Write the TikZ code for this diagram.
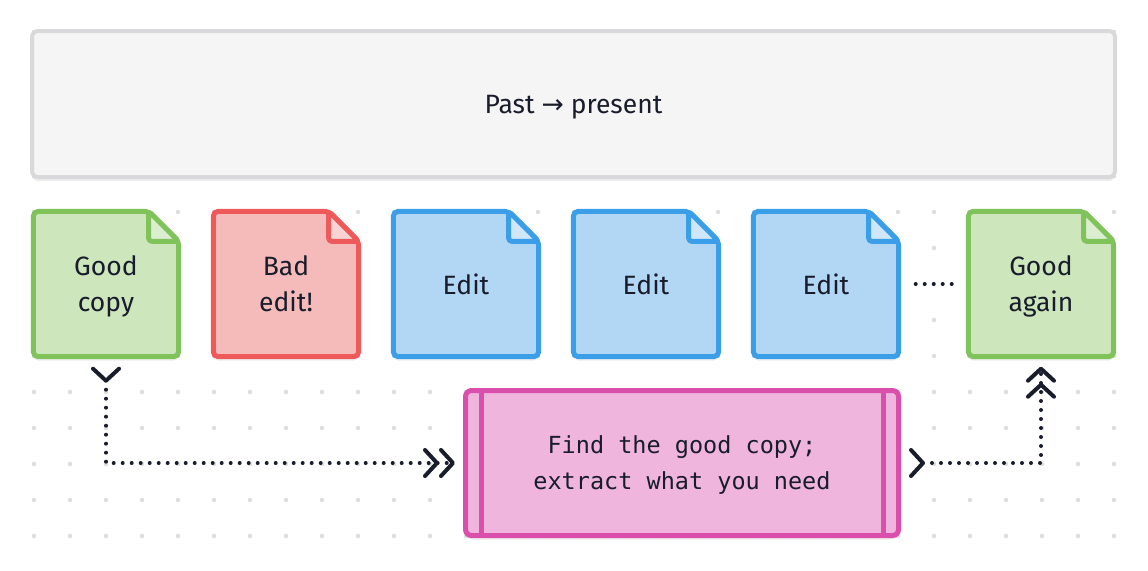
\documentclass[tikz,border=0pt]{standalone}
\usepackage{fontspec}
\setmainfont{Fira Sans}
\newfontfamily\arrowfont{DejaVu Sans}
\newfontfamily\codefont{DejaVu Sans Mono}
\usetikzlibrary{arrows.meta,backgrounds,shadows}

\definecolor{ink}{HTML}{181C2B}
\definecolor{griddot}{HTML}{DEDEDE}
\definecolor{bannerF}{HTML}{F5F5F5}
\definecolor{bannerL}{HTML}{D9D9DB}
\definecolor{greenF}{HTML}{CDE6BC}
\definecolor{greenL}{HTML}{7FC35A}
\definecolor{greenD}{HTML}{DCEED0}
\definecolor{redF}{HTML}{F5BBBB}
\definecolor{redL}{HTML}{EE5A5A}
\definecolor{redD}{HTML}{F9D4D4}
\definecolor{blueF}{HTML}{B2D7F5}
\definecolor{blueL}{HTML}{3B9EE9}
\definecolor{blueD}{HTML}{D0E7F9}
\definecolor{pinkF}{HTML}{EFB5DD}
\definecolor{pinkL}{HTML}{DA4FAC}

\begin{document}
\begin{tikzpicture}[x=1pt, y=-1pt,
    every node/.style={text=ink, text depth=0pt, font=\fontsize{26.5}{36}\selectfont},
    soft/.style={drop shadow={shadow xshift=0pt, shadow yshift=-4pt, opacity=0.07, fill=black}},
    banner/.style={draw=bannerL, fill=bannerF, line width=4pt, rounded corners=6pt,
        minimum width=1083pt, minimum height=146pt, soft},
    note/.style={inner sep=0pt, minimum width=145pt, minimum height=145pt, align=center},
    process/.style={draw=pinkL, fill=pinkF, line width=5pt, rounded corners=6pt,
        minimum width=433pt, minimum height=145pt, align=center, soft,
        font=\codefont\fontsize{23.5}{36}\selectfont},
    flow/.style={draw=ink, line width=4pt, line cap=round, dash pattern=on 0pt off 9pt},
    barb/.tip={Straight Barb[round, length=12pt, width=26pt, line width=4pt]}]
    \useasboundingbox (0,0) rectangle (1148,570);

    \node[banner] at (573.5,104)(past){Past {\arrowfont →} present};

    \node[note] at (106,284)(good){Good\\copy};
    \node[note] at (286,284)(bad){Bad\\edit!};
    \node[note] at (466,284)(edit1){Edit};
    \node[note] at (646,284)(edit2){Edit};
    \node[note] at (826,284)(edit3){Edit};
    \node[note] at (1041,284)(again){Good\\again};

    \node[process] at (682,463)(extract){Find the good copy;\\extract what you need};
    \draw[pinkL, line width=5pt]
        ([xshift=18pt]extract.north west) -- ([xshift=18pt]extract.south west)
        ([xshift=-18pt]extract.north east) -- ([xshift=-18pt]extract.south east);

    \begin{scope}[on background layer]
        \foreach \i in {0,...,30}
            \foreach \j in {-5,...,9}
                \fill[griddot] (34+36*\i, 212+36*\j) circle (2.2pt);
        \foreach \n/\col in {good/green, bad/red, edit1/blue, edit2/blue, edit3/blue, again/green}{
            \path[fill=\col F, draw=\col L, line width=5pt, rounded corners=5pt, soft]
                (\n.north west) -- ([xshift=-30pt]\n.north east)
                -- ([yshift=-30pt]\n.north east) -- (\n.south east)
                -- (\n.south west) -- cycle;
            \path[fill=\col D, draw=\col L, line width=5pt, rounded corners=3pt, line join=round]
                ([xshift=-30pt]\n.north east) -- ([xshift=-30pt, yshift=-30pt]\n.north east)
                -- ([yshift=-30pt]\n.north east) -- cycle;
        }
    \end{scope}

    \draw[flow, shorten <=17pt, shorten >=11pt] (edit3) -- (again);

    \draw[flow, {barb[reversed]}-{barb[]barb}, shorten <=10pt, shorten >=8pt]
        (good.south) -- (good.south |- extract.west) -- (extract.west);
    \draw[flow, {barb[reversed]}-{barb[]barb}, shorten <=8pt, shorten >=10pt]
        (extract.east) -- (again.south |- extract.east) -- (again.south);
\end{tikzpicture}
\end{document}
